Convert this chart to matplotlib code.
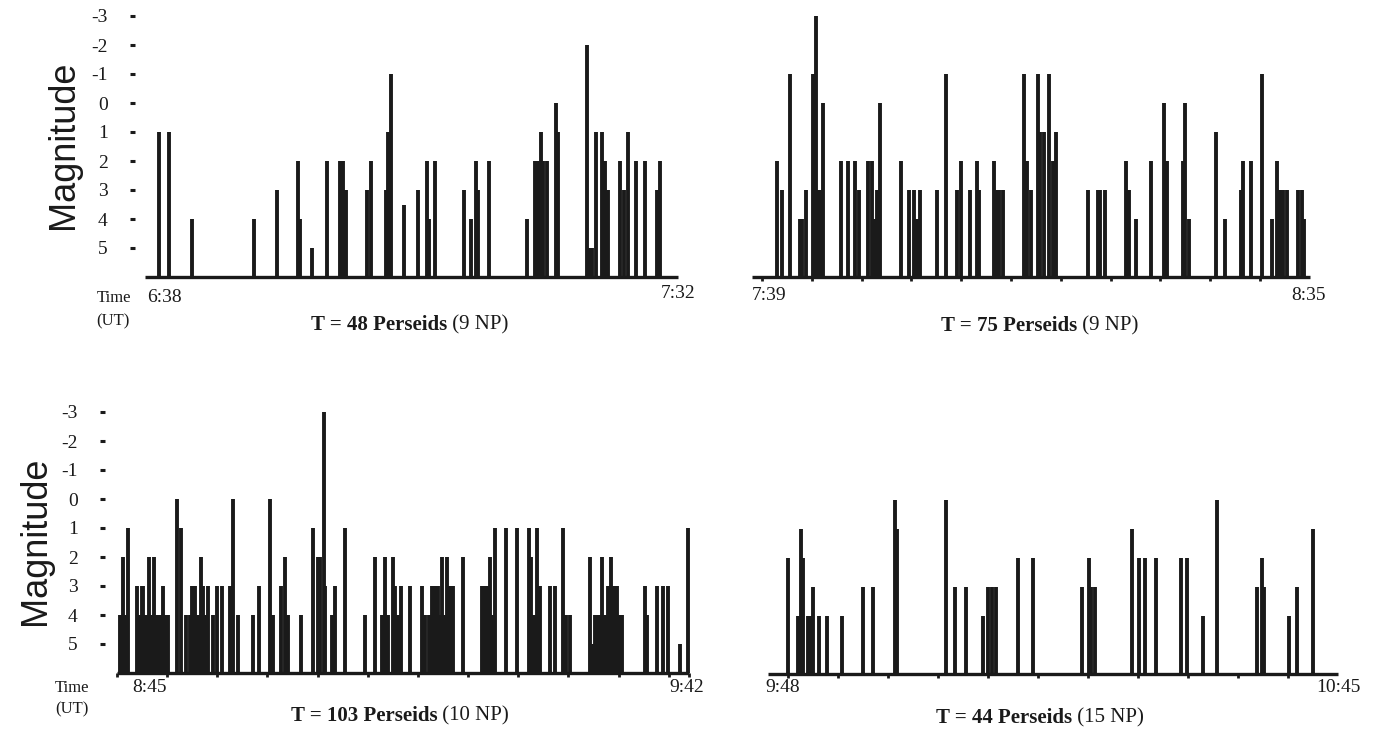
import matplotlib
matplotlib.use("Agg")
import matplotlib.pyplot as plt

W, H = 1380, 739
INK = "#1a1a1a"
SERIF = "Liberation Serif"
SANS = "Liberation Sans"

MAG_TICKS = [-3, -2, -1, 0, 1, 2, 3, 4, 5]
MAG_LABELS = ["-3", "-2", "-1", "0", "1", "2", "3", "4", "5"]

# panel 1: 6:38 - 7:32 UT (minutes after start, magnitude)
P1_LIMITS = ("6:38", "7:32")
P1_TIMES = [1.4, 2.4, 4.8, 11.0, 13.4, 15.5, 15.7, 16.9, 18.4, 19.8, 20.1, 20.4,
            22.5, 22.9, 24.4, 24.6, 24.9, 26.2, 27.7, 28.6, 28.8, 29.4, 32.3, 33.0,
            33.5, 33.7, 34.9, 38.7, 39.5, 39.8, 40.1, 40.3, 40.7, 41.6, 41.8, 44.8,
            45.0, 45.3, 45.7, 46.3, 46.6, 46.9, 48.1, 48.5, 48.9, 49.7, 50.7, 51.9, 52.2]
P1_MAGS = [1, 1, 4, 4, 3, 2, 4, 5, 2, 2, 2, 3,
           3, 2, 3, 1, -1, 3.5, 3, 2, 4, 2, 3, 4,
           2, 3, 2, 4, 2, 2, 1, 2, 2, 0, 1, -2,
           5, 5, 1, 1, 2, 3, 2, 3, 1, 2, 2, 3, 2]
P1_TITLE = ("T = 48 Perseids", "(9 NP)")

# panel 2: 7:39 - 8:35 UT
P2_LIMITS = ("7:39", "8:35")
P2_TIMES = [2.5, 3.0, 3.8, 4.8, 5.0, 5.4, 6.1, 6.4, 6.6, 6.9, 7.1, 8.9, 9.6, 10.3,
            10.7, 11.6, 12.0, 12.3, 12.6, 12.9, 15.0, 15.8, 16.3, 16.6, 16.9, 18.6,
            19.5, 20.6, 21.0, 21.9, 22.6, 22.8, 24.3, 24.5, 24.8, 25.2, 27.3, 27.6,
            28.0, 28.7, 28.9, 29.3, 29.8, 30.2, 30.5, 33.7, 34.7, 34.9, 35.4, 37.6,
            37.9, 38.6, 40.1, 41.4, 41.7, 43.3, 43.5, 43.9, 46.6, 47.5, 49.1, 49.3,
            50.1, 51.2, 52.2, 52.7, 53.0, 53.3, 53.7, 54.8, 55.2, 55.4]
P2_MAGS = [2, 3, -1, 4, 4, 3, -1, -3, 3, 3, 0, 2, 2, 2,
           3, 2, 2, 4, 3, 0, 2, 3, 3, 4, 3, 3,
           -1, 3, 2, 3, 2, 3, 2, 3, 3, 3, -1, 2,
           3, -1, 1, 1, -1, 2, 1, 3, 3, 3, 3, 2,
           3, 4, 2, 0, 2, 2, 0, 4, 1, 4, 3, 2,
           2, -1, 4, 2, 3, 3, 3, 3, 3, 4]
P2_TITLE = ("T = 75 Perseids", "(9 NP)")

# panel 3: 8:45 - 9:42 UT
P3_LIMITS = ("8:45", "9:42")
P3_TIMES = [0.3, 0.6, 0.8, 1.1, 2.0, 2.2, 2.5, 2.6, 2.9, 3.2, 3.4, 3.7, 4.0, 4.3,
            4.6, 4.9, 5.1, 6.0, 6.4, 6.9, 7.3, 7.5, 7.8, 8.1, 8.4, 8.6, 8.9, 9.1,
            9.6, 10.0, 10.5, 11.3, 11.6, 12.1, 13.6, 14.2, 15.3, 15.6, 16.4, 16.7,
            17.0, 18.3, 19.5, 20.0, 20.2, 20.6, 20.7, 21.4, 21.7, 22.7, 24.7, 25.7,
            26.4, 26.7, 27.0, 27.5, 27.7, 28.0, 28.3, 29.2, 30.4, 30.7, 31.1, 31.4,
            31.7, 32.0, 32.2, 32.4, 32.7, 32.9, 33.2, 33.5, 34.5, 36.4, 36.6, 36.8,
            37.0, 37.2, 37.5, 37.7, 38.8, 39.9, 41.1, 41.3, 41.5, 41.7, 41.9, 42.2,
            43.2, 43.7, 44.5, 44.8, 45.2, 47.2, 47.4, 47.7, 47.9, 48.2, 48.4, 48.7,
            49.0, 49.3, 49.6, 49.9, 50.1, 50.3, 52.6, 52.8, 53.8, 54.4, 54.9, 56.1, 56.9]
P3_MAGS = [4, 2, 4, 1, 3, 4, 3, 3, 4, 2, 4, 2, 4, 4,
           3, 4, 4, 0, 1, 4, 4, 3, 3, 4, 2, 3, 4, 3,
           4, 3, 3, 3, 0, 4, 4, 3, 0, 4, 3, 2,
           4, 4, 1, 2, 2, -3, 3, 4, 3, 1, 4, 2,
           4, 2, 4, 2, 3, 4, 3, 3, 3, 4, 4, 3,
           3, 3, 4, 2, 4, 2, 3, 3, 2, 3, 3, 3,
           3, 2, 4, 1, 1, 1, 1, 2, 4, 4, 1, 3,
           3, 3, 1, 4, 4, 2, 5, 4, 4, 4, 2, 4,
           3, 2, 3, 3, 4, 4, 3, 4, 3, 3, 3, 5, 1]
P3_TITLE = ("T = 103 Perseids", "(10 NP)")

# panel 4: 9:48 - 10:45 UT
P4_LIMITS = ("9:48", "10:45")
P4_TIMES = [2.0, 3.0, 3.3, 3.5, 4.0, 4.3, 4.5, 5.1, 5.9, 7.4, 9.5, 10.5, 12.7, 12.9,
            17.8, 18.7, 19.8, 21.5, 22.0, 22.4, 22.8, 25.0, 26.5, 31.4, 32.1, 32.3,
            32.7, 36.4, 37.1, 37.7, 38.8, 41.3, 41.9, 43.5, 44.9, 48.9, 49.4, 49.6,
            52.1, 52.9, 54.5]
P4_MAGS = [2, 4, 1, 2, 4, 4, 3, 4, 4, 4, 3, 3, 0, 1,
           0, 3, 3, 4, 3, 3, 3, 2, 2, 3, 2, 3,
           3, 1, 2, 2, 2, 2, 2, 4, 0, 3, 2, 3,
           4, 3, 1]
P4_TITLE = ("T = 44 Perseids", "(15 NP)")

PX_PER_MAG = 29.0


def px(x, y):
    return x / W, 1 - y / H


def draw_panel(fig, times, mags, dur, t0_px, ppm, base_px, left_px, show_y, xticks):
    top_mag = -3.45
    right_px = t0_px + dur * ppm + 6
    top_px = base_px - (6 - top_mag) * PX_PER_MAG
    ax = fig.add_axes([left_px / W, 1 - base_px / H,
                       (right_px - left_px) / W, (base_px - top_px) / H])
    ax.set_xlim((left_px - t0_px) / ppm, (right_px - t0_px) / ppm)
    ax.set_ylim(6, top_mag)
    ax.patch.set_visible(False)
    for s in ax.spines.values():
        s.set_visible(False)

    ax.vlines(times, 6, mags, colors=INK, lw=2.8)
    ax.hlines(6, 0, dur, colors=INK, lw=2.4, clip_on=False)

    if show_y:
        ax.set_yticks(MAG_TICKS, MAG_LABELS)
        ax.tick_params(axis="y", direction="in", length=3.6, width=2.2, pad=16,
                       colors=INK, labelsize=14)
        for lab in ax.get_yticklabels():
            lab.set_fontfamily(SERIF)
    else:
        ax.set_yticks([])

    ax.set_xticks(xticks)
    ax.tick_params(axis="x", direction="out", length=3, width=2, colors=INK,
                   labelbottom=False)
    return ax


def two_part_title(fig, cx, cy, bold, normal, size=15):
    r = fig.canvas.get_renderer()
    t1 = fig.text(0, 0, bold, fontsize=size, fontweight="bold", family=SERIF,
                  color=INK, va="center", ha="left")
    t2 = fig.text(0, 0, " " + normal, fontsize=size, family=SERIF,
                  color=INK, va="center", ha="left")
    w1 = t1.get_window_extent(r).width
    w2 = t2.get_window_extent(r).width
    x0 = cx - (w1 + w2) / 2
    t1.set_position(px(x0, cy))
    t2.set_position(px(x0 + w1, cy))


def label(fig, x, y, s, size=14, ha="left", **kw):
    fig.text(*px(x, y), s, fontsize=size, family=SERIF, color=INK,
             ha=ha, va="center", **kw)


fig = plt.figure(figsize=(W / 100, H / 100), dpi=100)
fig.patch.set_facecolor("white")

# top left
draw_panel(fig, P1_TIMES, P1_MAGS, 54, 145, 9.87, 277, 130, True, [])
fig.text(*px(63, 145), "Magnitude", rotation=90, fontsize=26, family=SANS,
         color=INK, ha="center", va="center")
label(fig, 97, 298, "Time", size=12)
label(fig, 96, 321, "(UT)", size=12)
label(fig, 147, 298, P1_LIMITS[0])
label(fig, 678, 294, P1_LIMITS[1], ha="center")
two_part_title(fig, 410, 325, *P1_TITLE)

# top right
draw_panel(fig, P2_TIMES, P2_MAGS, 56, 752, 9.96, 277, 750, False,
           [1 + 5 * k for k in range(11)])
label(fig, 752, 295, P2_LIMITS[0])
label(fig, 1308, 296, P2_LIMITS[1], ha="center")
two_part_title(fig, 1040, 326, *P2_TITLE)

# bottom left
draw_panel(fig, P3_TIMES, P3_MAGS, 57, 117, 10.03, 673, 100, True,
           [5 * k for k in range(12)] + [57])
fig.text(*px(35, 541), "Magnitude", rotation=90, fontsize=26, family=SANS,
         color=INK, ha="center", va="center")
label(fig, 55, 688, "Time", size=12)
label(fig, 55, 709, "(UT)", size=12)
label(fig, 132, 688, P3_LIMITS[0])
label(fig, 687, 688, P3_LIMITS[1], ha="center")
two_part_title(fig, 400, 716, *P3_TITLE)

# bottom right
draw_panel(fig, P4_TIMES, P4_MAGS, 57, 768, 10.0, 674, 766, False,
           [2 + 5 * k for k in range(11)])
label(fig, 765, 688, P4_LIMITS[0])
label(fig, 1338, 688, P4_LIMITS[1], ha="center")
two_part_title(fig, 1040, 718, *P4_TITLE)

fig.savefig("out.png", dpi=100, facecolor="white")
